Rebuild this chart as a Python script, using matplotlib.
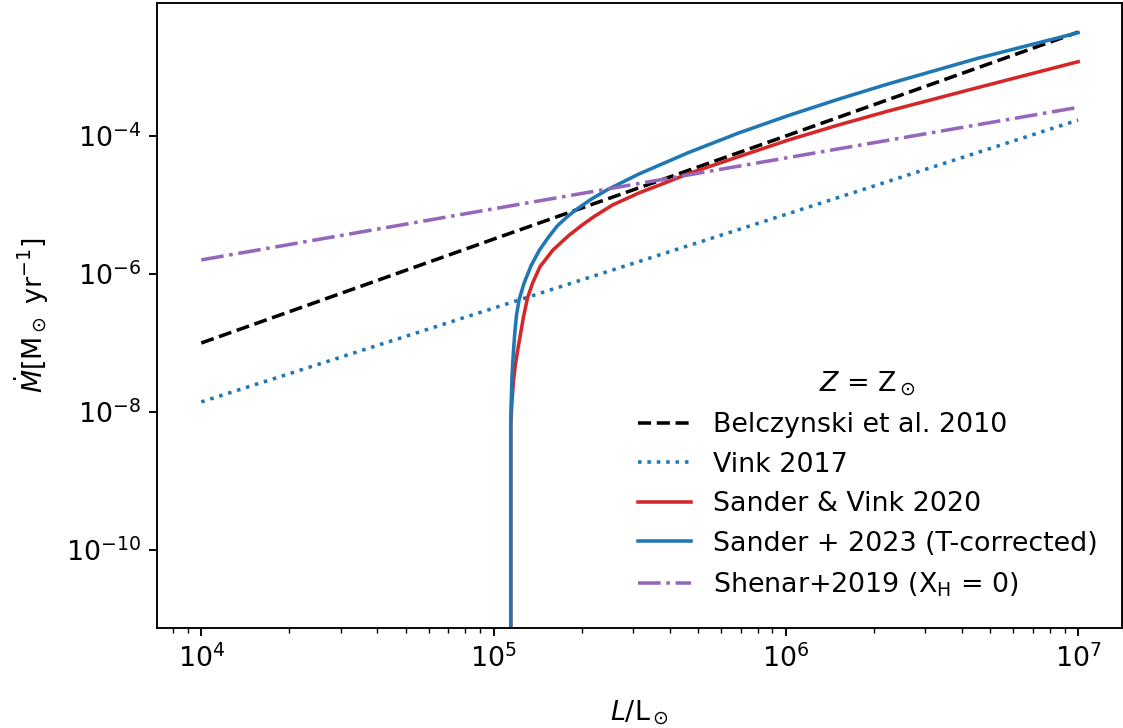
import matplotlib
matplotlib.use("Agg")
import matplotlib.pyplot as plt
from matplotlib.ticker import FixedLocator, NullLocator

# Luminosity grid for the power-law prescriptions
L_powerlaw = [1e4, 1e5, 1e6, 1e7]
mdot_belczynski = [1.0e-7, 3.2e-6, 1.0e-4, 3.2e-3]
mdot_vink17 = [1.4e-8, 3.2e-7, 7.3e-6, 1.7e-4]
mdot_shenar = [1.6e-6, 8.8e-6, 4.8e-5, 2.6e-4]

# Sander & Vink 2020
L_sv20 = [1.1457e5, 1.1457e5, 1.1566e5, 1.1703e5, 1.1870e5, 1.2096e5,
          1.2661e5, 1.3065e5, 1.3590e5, 1.4415e5, 1.5967e5, 1.8036e5,
          2.0000e5, 2.2042e5, 2.5533e5, 3.1400e5, 3.8500e5, 4.6527e5,
          6.8936e5, 1.0215e6, 1.5135e6, 2.2426e6, 4.5514e6, 1.0e7]
mdot_sv20 = [1e-12, 6.93e-9, 1.49e-8, 2.91e-8, 4.80e-8, 7.92e-8,
             2.405e-7, 4.49e-7, 7.33e-7, 1.276e-6, 2.228e-6, 3.58e-6,
             5.05e-6, 6.77e-6, 1.0e-5, 1.492e-5, 2.08e-5, 2.86e-5,
             5.01e-5, 8.75e-5, 1.443e-4, 2.303e-4, 5.044e-4, 1.193e-3]

# Sander et al. 2023 (temperature corrected)
L_s23 = [1.1447e5, 1.1447e5, 1.1494e5, 1.1566e5, 1.1703e5, 1.1842e5,
         1.1983e5, 1.2220e5, 1.2711e5, 1.3450e5, 1.4359e5, 1.5400e5,
         1.6555e5, 1.7800e5, 1.9087e5, 2.1500e5, 2.4414e5, 3.1400e5,
         3.8500e5, 4.6527e5, 6.8936e5, 1.0215e6, 1.5135e6, 2.2426e6,
         4.5514e6, 1.0e7]
mdot_s23 = [1e-12, 6.93e-9, 1.49e-8, 3.44e-8, 7.92e-8, 1.543e-7,
            2.545e-7, 4.20e-7, 7.33e-7, 1.33e-6, 2.227e-6, 3.40e-6,
            5.03e-6, 6.65e-6, 8.46e-6, 1.20e-5, 1.65e-5, 2.81e-5,
            4.08e-5, 5.77e-5, 1.105e-4, 1.982e-4, 3.414e-4, 5.69e-4,
            1.341e-3, 3.141e-3]

y_ticks = [1e-10, 1e-8, 1e-6, 1e-4]

plt.rcParams['font.size'] = 11.4

fig = plt.figure(figsize=(1123 / 170, 728 / 170), dpi=170)
ax = fig.add_axes([0.1402, 0.1374, 0.8589, 0.8578])

ax.plot(L_powerlaw, mdot_belczynski, ls='--', color='black', label='Belczynski et al. 2010')
ax.plot(L_powerlaw, mdot_vink17, ls=':', color='tab:blue', label='Vink 2017')
ax.plot(L_sv20, mdot_sv20, ls='-', color='tab:red', label='Sander & Vink 2020')
ax.plot(L_s23, mdot_s23, ls='-', color='tab:blue', label='Sander + 2023 (T-corrected)')
ax.plot(L_powerlaw, mdot_shenar, ls='-.', color='tab:purple',
        label=r'Shenar+2019 (X$_{\rm H}$ = 0)')

ax.set_xscale('log')
ax.set_yscale('log')
ax.set_xlim(10 ** 3.85, 10 ** 7.15)
ax.set_ylim(10 ** -11.13, 10 ** -2.08)
ax.yaxis.set_major_locator(FixedLocator(y_ticks))
ax.yaxis.set_minor_locator(NullLocator())

ax.set_xlabel(r'$L/\rm L_\odot$', labelpad=11)
ax.set_ylabel(r'$\dot{M} [\rm M_\odot\ yr^{-1}]$', labelpad=6.5)

ax.legend(title=r'$Z$ = Z$_\odot$', frameon=False, loc='lower right',
          bbox_to_anchor=(1.0, 0.008))

fig.savefig('out.png', dpi=170)
